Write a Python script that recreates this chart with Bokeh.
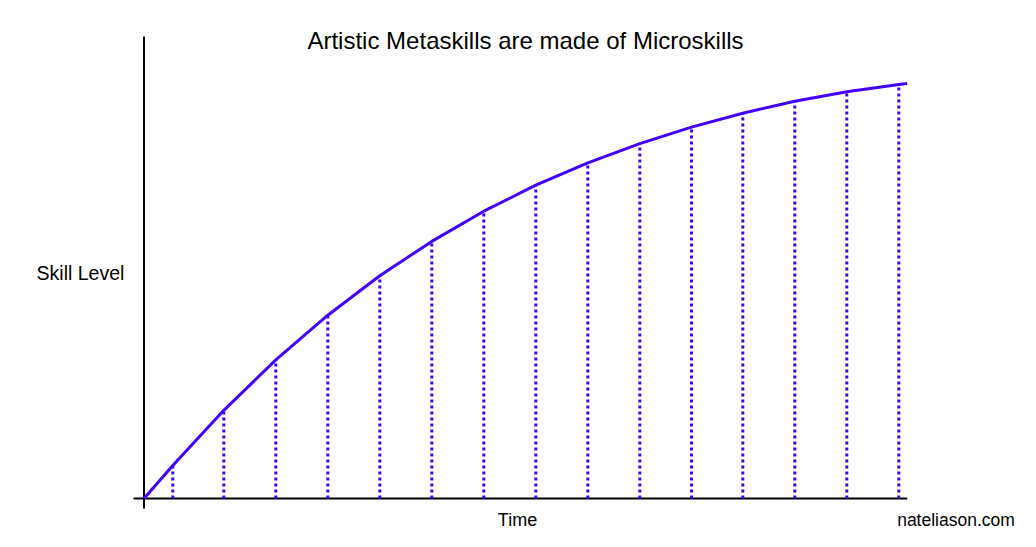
from bokeh.plotting import figure
from bokeh.models import Range1d, Label, ColumnDataSource
from bokeh.embed import file_html
from bokeh.resources import INLINE

# Data (time in arbitrary units, skill level in arbitrary units)
curve_time = [0, 28.8, 79.8, 131.8, 183.8, 235.8, 287.8, 339.8, 391.8, 443.8,
              495.8, 547.5, 598.8, 650.8, 702.8, 754.8, 763.2]
curve_level = [0, 33.1, 88.2, 138.6, 183.3, 222.8, 257.1, 287.3, 313.3, 335.7,
               354.9, 371.4, 385.3, 397.3, 406.7, 414, 415]
micro_time = curve_time[1:16]
micro_level = curve_level[1:16]

title_text = "Artistic Metaskills are made of Microskills"
x_label = "Time"
y_label = "Skill Level"
credit = "nateliason.com"

BLUE = "#4400ff"
FONT = "Liberation Sans"

p = figure(width=1020, height=531, output_backend="svg", toolbar_location=None,
           x_range=Range1d(-143.5, 876.5), y_range=Range1d(-33, 498),
           min_border=0, min_border_left=0, min_border_right=0,
           min_border_top=0, min_border_bottom=0)
p.axis.visible = False
p.grid.visible = False
p.outline_line_color = None
p.background_fill_color = "white"
p.border_fill_color = "white"

# axes lines (cross at origin)
p.segment(x0=[0], y0=[-10], x1=[0], y1=[462], line_color="black", line_width=2)
p.segment(x0=[-10.5], y0=[0], x1=[curve_time[-1]], y1=[0], line_color="black", line_width=2)

# microskill dotted lines
src = ColumnDataSource(dict(x=micro_time, y=micro_level, z=[0] * len(micro_time)))
p.segment(x0="x", y0="z", x1="x", y1="y", source=src, line_color=BLUE,
          line_width=3, line_dash="3 3")

# metaskill curve
p.line(curve_time, curve_level, line_color=BLUE, line_width=3, line_join="round")

p.add_layout(Label(x=381.5, y=458, text=title_text, text_align="center",
                   text_baseline="middle", text_font=FONT, text_font_size="24px",
                   text_color="black"))
p.add_layout(Label(x=-63.5, y=226, text=y_label, text_align="center",
                   text_baseline="middle", text_font=FONT, text_font_size="19.5px",
                   text_color="black"))
p.add_layout(Label(x=373.5, y=-21, text=x_label, text_align="center",
                   text_baseline="middle", text_font=FONT, text_font_size="18px",
                   text_color="black"))
p.add_layout(Label(x=812, y=-21, text=credit, text_align="center",
                   text_baseline="middle", text_font=FONT, text_font_size="17.5px",
                   text_color="black"))

open("out.html", "w").write(file_html(p, INLINE))
